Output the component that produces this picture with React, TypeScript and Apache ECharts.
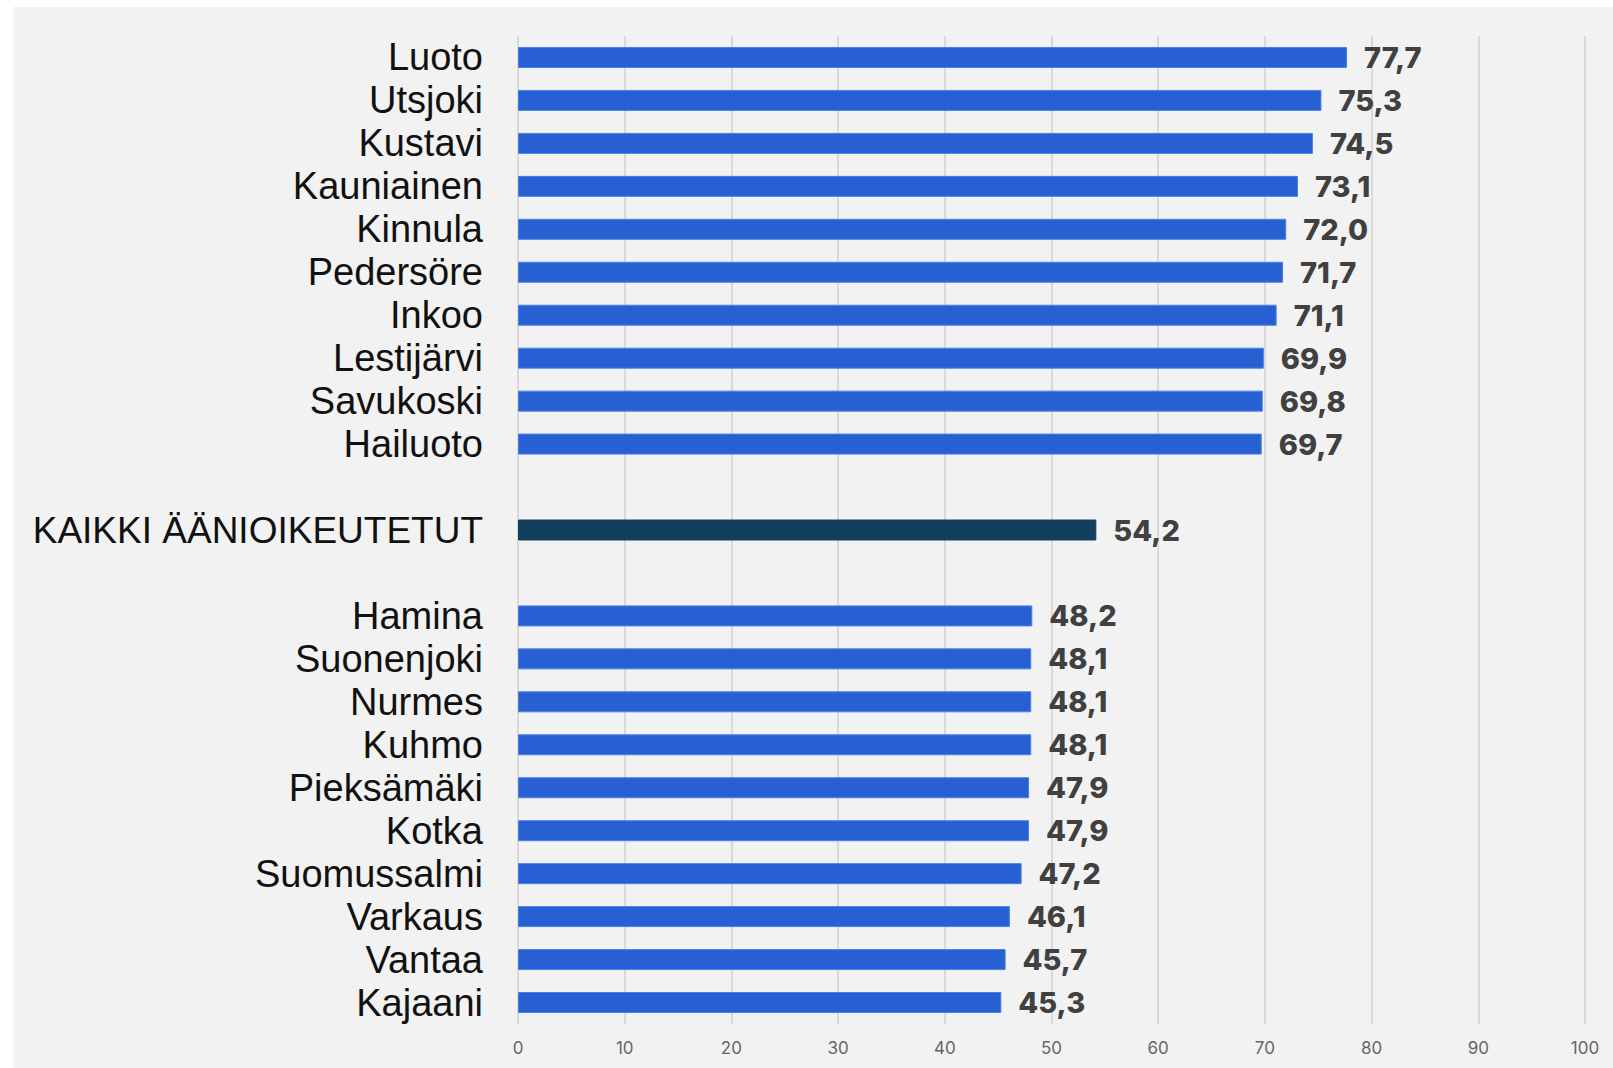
import React, { useEffect, useRef } from "react";
import * as echarts from "echarts";

const categories = [
  "Luoto", "Utsjoki", "Kustavi", "Kauniainen", "Kinnula", "Pedersöre", "Inkoo", "Lestijärvi", "Savukoski", "Hailuoto",
  "",
  "KAIKKI ÄÄNIOIKEUTETUT",
  " ",
  "Hamina", "Suonenjoki", "Nurmes", "Kuhmo", "Pieksämäki", "Kotka", "Suomussalmi", "Varkaus", "Vantaa", "Kajaani",
];
const values: (number | null)[] = [
  77.7, 75.3, 74.5, 73.1, 72.0, 71.7, 71.1, 69.9, 69.8, 69.7,
  null,
  54.2,
  null,
  48.2, 48.1, 48.1, 48.1, 47.9, 47.9, 47.2, 46.1, 45.7, 45.3,
];
const highlightCategory = "KAIKKI ÄÄNIOIKEUTETUT";
const xTicks = { min: 0, max: 100, interval: 10 };

export default function App() {
  const ref = useRef<HTMLDivElement>(null);
  useEffect(() => {
    if (!ref.current) return;
    const chart = echarts.init(ref.current, undefined, { renderer: "svg" });
    const data = values.map((v, i) =>
      v === null
        ? { value: null }
        : categories[i] === highlightCategory
        ? { value: v, itemStyle: { color: "#133F5E", borderColor: "#133F5E" } }
        : { value: v }
    );
    chart.setOption({
      animation: false,
      backgroundColor: "#f2f2f2",
      grid: { left: 505, top: 29, width: 1067, height: 988, containLabel: false },
      xAxis: {
        type: "value",
        min: xTicks.min,
        max: xTicks.max,
        interval: xTicks.interval,
        axisLine: { show: false },
        axisTick: { show: false },
        axisLabel: { color: "#666666", fontSize: 17, fontFamily: "Inter", margin: 15 },
        splitLine: { show: true, lineStyle: { color: "#d9d9d9", width: 2 } },
      },
      yAxis: {
        type: "category",
        inverse: true,
        data: categories,
        axisLine: { show: false },
        axisTick: { show: false },
        axisLabel: {
          interval: 0,
          color: "#111111",
          fontSize: 38,
          lineHeight: 42,
          fontFamily: "Liberation Sans",
          margin: 35,
          rich: {
            big: { fontSize: 37, lineHeight: 42, fontFamily: "Liberation Sans", color: "#111111" },
          },
          formatter: (v: string) => (v === highlightCategory ? `{big|${v}}` : v),
        },
      },
      series: [
        {
          type: "bar",
          data,
          barWidth: 21,
          itemStyle: { color: "#2660D3", borderColor: "#4a80e4", borderWidth: 1 },
          label: {
            show: true,
            position: "right",
            distance: 17,
            color: "#404040",
            fontSize: 29,
            fontWeight: 800,
            fontFamily: "Inter",
            formatter: (p: any) => (p.value == null ? "" : Number(p.value).toFixed(1).replace(".", ",")),
          },
        },
      ],
    });
    return () => chart.dispose();
  }, []);
  return (
    <div style={{ position: "absolute", left: 0, top: 0, width: 1613, height: 1068, background: "#ffffff" }}>
      <div ref={ref} style={{ position: "absolute", left: 13, top: 7, width: 1600, height: 1061 }} />
    </div>
  );
}
